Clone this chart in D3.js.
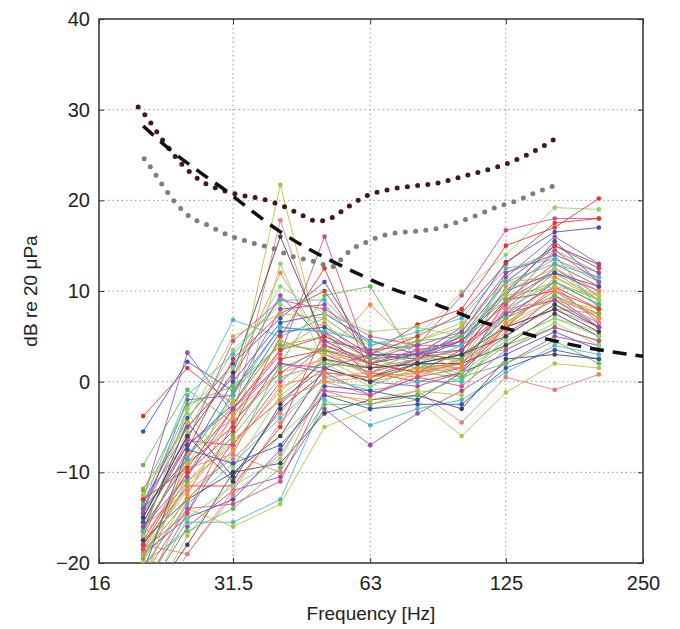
<!DOCTYPE html>
<html>
<head>
<meta charset="utf-8">
<script src="https://cdn.jsdelivr.net/npm/d3@7"></script>
<style>
  body { margin: 0; background: #fff; }
  text { font-family: "Liberation Sans", Arial, sans-serif; fill: #222; }
</style>
</head>
<body>
<div id="chart"></div>
<script>
const width = 680;
const height = 629;
const margin = { top: 19, right: 37, bottom: 66, left: 99 };

// third-octave bands of the measured spectra
const bands = [20, 25, 31.5, 40, 50, 63, 80, 100, 125, 160, 200];

// one row per measured spectrum (dB at each band)
const spectra = [
  [-3.8, 1.5, -2.5, 4.5, 3.0, 1.0, 2.5, 3.5, 9.0, 13.0, 10.5],
  [-5.5, 2.2, -1.0, 6.0, 5.5, 2.5, 3.0, 5.0, 11.0, 15.0, 12.9],
  [-9.2, -0.9, -4.5, 1.5, 3.5, 0.5, 1.5, 2.0, 7.5, 12.0, 9.0],
  [-11.8, -5.0, 0.5, 12.0, 4.0, 2.0, 3.5, 1.0, 6.0, 8.0, 7.5],
  [-13.0, 3.2, -3.5, 2.0, 1.0, -1.5, 0.5, 1.5, 5.0, 9.5, 6.0],
  [-14.0, -3.0, 6.8, 5.0, 7.0, 3.5, 2.0, 4.0, 10.0, 14.0, 8.0],
  [-16.5, -8.0, -2.0, 21.7, 2.5, 0.0, 1.0, 0.5, 4.5, 7.0, 5.5],
  [-17.5, -10.0, -4.0, 17.8, 3.5, 1.5, 2.0, 1.5, 6.5, 10.0, 7.0],
  [-15.0, -6.0, 1.0, 16.0, 4.5, 2.0, 3.0, 2.5, 7.0, 11.0, 8.5],
  [-18.5, -12.0, -6.0, 13.0, 2.0, -0.5, 1.5, 0.0, 5.0, 8.5, 6.5],
  [-14.5, -7.0, -3.0, 3.0, 16.0, 2.0, 1.0, 2.0, 8.0, 12.5, 9.5],
  [-16.0, -9.0, -5.0, 5.0, 12.5, 1.0, 0.0, 1.0, 6.0, 10.5, 8.0],
  [-13.5, -4.0, 2.0, 7.0, 11.0, 3.0, 2.5, 4.5, 9.5, 15.5, 11.0],
  [-19.0, -13.0, -8.0, 2.0, 9.5, 10.5, 2.0, 0.5, 4.0, 6.0, 4.5],
  [-17.0, -11.0, -7.0, -1.0, 3.0, 8.5, 3.5, 2.0, 6.0, 9.0, 7.5],
  [-24.0, -16.0, -12.0, -10.5, -3.0, -7.0, -3.5, -1.0, 2.0, 5.0, 4.0],
  [-22.0, -15.5, -15.5, -13.0, -2.0, -4.8, -3.0, -2.0, 1.0, 4.0, 3.0],
  [-19.5, -14.0, -16.0, -13.5, -5.0, -3.0, -2.0, -6.0, -1.2, 2.0, 1.5],
  [-18.0, -19.0, -12.5, -8.0, -1.0, -2.5, -1.0, -4.5, 0.5, -0.9, 0.8],
  [-25.0, -18.0, -10.0, -9.0, -3.5, -2.0, -1.5, -3.0, 2.5, 3.0, 2.5],
  [-16.0, -5.5, 3.5, 8.5, 6.0, 4.0, 5.0, 9.9, 14.0, 19.2, 19.0],
  [-15.5, -6.5, 4.5, 9.0, 8.0, 5.0, 4.0, 9.5, 16.7, 18.0, 18.0],
  [-17.0, -7.5, 2.5, 7.5, 10.0, 3.0, 6.3, 8.0, 15.0, 17.0, 20.2],
  [-14.0, -8.5, 0.0, 6.5, 7.5, 4.5, 3.0, 6.0, 13.2, 16.5, 17.0],
  [-18.5, -10.5, -1.0, 4.0, 5.0, 2.5, 1.5, 3.0, 12.0, 14.5, 12.0],
  [-21.0, -12.5, -3.5, 1.0, 2.5, 1.0, 0.5, 2.5, 10.5, 13.5, 11.5],
  [-23.0, -14.5, -6.5, -2.0, 1.5, 0.0, -0.5, 1.0, 9.0, 12.0, 10.0],
  [-20.5, -13.5, -9.0, -4.0, 0.5, -1.0, 0.0, 0.0, 8.0, 11.0, 9.0],
  [-26.0, -17.0, -11.0, -6.0, -1.5, -2.0, -1.0, -1.5, 6.5, 9.0, 8.0],
  [-17.5, -9.5, -8.0, -10.0, 0.0, -1.5, 1.0, 1.5, 5.5, 8.0, 6.0],
  [-16.5, -4.5, -10.5, -3.0, 1.0, 0.5, 2.0, 2.0, 4.0, 7.5, 5.0],
  [-15.0, -3.5, -9.5, -1.5, 2.0, 1.5, 3.0, 3.0, 3.5, 6.5, 4.0],
  [-13.0, -6.5, -7.0, 0.0, 4.0, 2.5, 4.0, 4.0, 7.5, 10.5, 6.5],
  [-18.0, -11.5, -11.5, -5.0, 5.5, 0.5, 2.5, 5.0, 10.0, 15.0, 12.5],
  [-19.0, -15.0, -13.0, -7.5, -0.5, -1.0, -2.0, 1.0, 3.0, 5.5, 3.5],
  [-20.0, -16.5, -14.0, -9.5, -2.5, -2.5, -1.5, 0.5, 2.0, 4.5, 2.0],
  [-22.5, -8.0, -4.0, 3.5, 6.5, 2.0, 1.0, 2.5, 8.5, 12.5, 10.0],
  [-14.5, -2.0, -1.5, 8.0, 8.5, 3.0, 2.5, 5.5, 11.5, 16.0, 13.0],
  [-13.5, -1.5, 3.0, 9.0, 9.0, 4.0, 5.5, 7.0, 12.5, 13.5, 11.0],
  [-12.5, -4.5, 5.0, 7.5, 7.0, 3.5, 4.5, 6.5, 11.0, 11.5, 9.5],
  [-16.0, -12.0, -8.5, -3.5, 3.0, 1.0, 3.5, 4.0, 7.0, 9.5, 7.0],
  [-17.5, -13.0, -10.0, -6.0, 1.5, 0.0, 2.0, 3.0, 6.0, 8.0, 5.5],
  [-24.5, -15.0, -11.5, -8.5, 0.0, -0.5, 1.5, 1.0, 4.5, 7.0, 5.0],
  [-21.5, -14.0, -13.5, -11.0, -1.0, -1.5, 0.5, -0.5, 3.5, 6.0, 4.5],
  [-18.0, -10.0, -5.5, 2.5, 3.5, 2.0, 1.0, 3.5, 9.0, 10.0, 8.0],
  [-15.5, -7.0, -2.5, 5.5, 6.0, 3.0, 3.0, 4.5, 10.0, 12.0, 10.5],
  [-19.5, -11.0, -6.0, 0.5, 2.0, 1.5, 2.5, 2.5, 7.0, 9.5, 7.5],
  [-23.5, -13.0, -7.5, -0.5, 1.0, 0.5, 1.5, 1.5, 6.0, 11.5, 9.0],
  [-14.0, -5.0, 0.5, 9.5, 4.5, 3.5, 4.0, 5.5, 12.0, 14.0, 12.0],
  [-16.5, -8.5, -1.5, 6.0, 5.5, 4.5, 3.5, 4.0, 11.0, 13.0, 11.5],
  [-20.0, -9.0, -2.5, 4.5, 3.0, 2.0, 4.5, 6.0, 9.5, 10.5, 9.5],
  [-27.0, -19.0, -12.0, -4.5, 0.5, 1.0, 2.5, 3.5, 8.0, 9.0, 6.5],
  [-15.0, -6.0, -11.0, -2.5, 2.5, 1.5, 2.0, 3.0, 5.0, 8.5, 6.0],
  [-17.0, -3.0, 1.5, 10.5, 7.5, 5.5, 6.0, 5.0, 10.0, 12.5, 9.0],
  [-18.5, -14.5, -4.5, 1.0, 4.0, 2.0, 3.5, 4.5, 8.5, 14.5, 11.0],
  [-13.0, -9.5, -3.0, 3.5, 5.0, 3.0, 5.0, 7.5, 13.0, 17.5, 18.0],
  [-21.0, -7.5, -9.0, -7.0, -1.5, -3.0, -2.5, -2.5, 1.5, 3.5, 2.5],
  [-12.0, -2.5, -0.5, 4.0, 3.5, 2.5, 4.5, 5.0, 9.0, 11.0, 8.5],
  [-19.0, -11.5, -6.5, -2.0, 0.0, 0.5, 1.0, 2.0, 6.5, 10.0, 7.0],
  [-16.0, -10.5, -3.0, 2.0, 1.5, 3.0, 3.0, 3.5, 7.5, 9.0, 6.0]
];

const lineColors = ["#e8322c", "#3b4fb4", "#5cbc4c", "#f28a3c", "#9c4aaa",
  "#3fb8c2", "#bcbc3e", "#e77a7a", "#3d3d5c", "#8fd06e", "#d04a8a"];

// upper dotted curve (dark red): [Hz, dB]
const upperCurveHz = [19.5, 20.2, 22.1, 24.3, 26.7, 29.5, 32.6, 36.1, 40.0, 43.7,
  48.4, 51.4, 56.0, 61.3, 67.9, 75.9, 88.3, 103.2, 120.1, 139.1, 161.8];
const upperCurveDb = [30.3, 29.4, 26.6, 24.0, 22.2, 21.2, 20.6, 20.2, 19.5, 18.6,
  17.7, 18.0, 19.2, 20.4, 21.1, 21.5, 21.9, 22.8, 23.7, 25.0, 26.9];

// lower dotted curve (grey)
const lowerCurveHz = [20.1, 20.8, 22.1, 23.5, 25.3, 27.6, 31.3, 34.8, 38.5, 42.6,
  47.2, 52.2, 55.5, 58.3, 61.9, 65.2, 71.4, 79.8, 88.3, 98.1, 108.6, 120.1, 132.9, 146.2, 161.8];
const lowerCurveDb = [24.6, 23.6, 21.6, 19.8, 18.2, 17.3, 16.0, 15.3, 14.7, 13.8,
  13.3, 12.7, 14.0, 14.8, 15.4, 15.9, 16.4, 16.6, 16.9, 17.6, 18.4, 19.3, 20.0, 20.9, 21.7];

// dashed black curve
const dashedCurveHz = [20, 22.9, 26.8, 30.7, 34.3, 39.3, 44.8, 51.9, 59.8, 70.7,
  81.0, 95.7, 110.8, 128.9, 150.8, 177.2, 207.2, 250];
const dashedCurveDb = [28.2, 25.6, 23.0, 20.9, 19.0, 16.8, 15.0, 13.3, 11.8, 10.2,
  9.2, 7.8, 6.6, 5.7, 4.8, 4.0, 3.4, 2.8];

const xTicks = [16, 31.5, 63, 125, 250];
const yTicks = [-20, -10, 0, 10, 20, 30, 40];

const innerW = width - margin.left - margin.right;
const innerH = height - margin.top - margin.bottom;

const svg = d3
  .select("#chart")
  .append("svg")
  .attr("width", width)
  .attr("height", height);

const x = d3.scaleLog().domain([16, 250]).range([0, innerW]);
const y = d3.scaleLinear().domain([-20, 40]).range([innerH, 0]);

const g = svg
  .append("g")
  .attr("transform", `translate(${margin.left},${margin.top})`);

svg
  .append("clipPath")
  .attr("id", "plotClip")
  .append("rect")
  .attr("width", innerW)
  .attr("height", innerH)
  .attr("transform", `translate(${margin.left},${margin.top})`);

// grid
g.selectAll(".hgrid")
  .data(yTicks.slice(1, -1))
  .enter()
  .append("line")
  .attr("x1", 0)
  .attr("x2", innerW)
  .attr("y1", (d) => y(d))
  .attr("y2", (d) => y(d))
  .attr("stroke", "#9a9a9a")
  .attr("stroke-width", 1)
  .attr("stroke-dasharray", "1.5,3");

g.selectAll(".vgrid")
  .data(xTicks.slice(1, -1))
  .enter()
  .append("line")
  .attr("x1", (d) => x(d))
  .attr("x2", (d) => x(d))
  .attr("y1", 0)
  .attr("y2", innerH)
  .attr("stroke", "#9a9a9a")
  .attr("stroke-width", 1)
  .attr("stroke-dasharray", "1.5,3");

const plot = svg
  .append("g")
  .attr("clip-path", "url(#plotClip)")
  .append("g")
  .attr("transform", `translate(${margin.left},${margin.top})`);

const line = d3
  .line()
  .x((d, i) => x(bands[i]))
  .y((d) => y(d));

// measured spectra
const series = plot
  .selectAll(".spectrum")
  .data(spectra)
  .enter()
  .append("g")
  .attr("class", "spectrum");

series
  .append("path")
  .attr("d", (d) => line(d))
  .attr("fill", "none")
  .attr("stroke", (d, i) => lineColors[i % lineColors.length])
  .attr("stroke-width", 1)
  .attr("stroke-opacity", 0.85);

series.each(function (row, i) {
  d3.select(this)
    .selectAll("circle")
    .data(row)
    .enter()
    .append("circle")
    .attr("cx", (d, j) => x(bands[j]))
    .attr("cy", (d) => y(d))
    .attr("r", 2.3)
    .attr("fill", lineColors[i % lineColors.length]);
});

// reference curves
const smooth = d3
  .line()
  .curve(d3.curveMonotoneX)
  .x((d) => x(d[0]))
  .y((d) => y(d[1]));

plot
  .append("path")
  .attr("d", smooth(d3.zip(lowerCurveHz, lowerCurveDb)))
  .attr("fill", "none")
  .attr("stroke", "#7e7e7e")
  .attr("stroke-width", 5)
  .attr("stroke-linecap", "round")
  .attr("stroke-dasharray", "0,10.3");

plot
  .append("path")
  .attr("d", smooth(d3.zip(upperCurveHz, upperCurveDb)))
  .attr("fill", "none")
  .attr("stroke", "#451818")
  .attr("stroke-width", 5)
  .attr("stroke-linecap", "round")
  .attr("stroke-dasharray", "0,10.3");

plot
  .append("path")
  .attr("d", smooth(d3.zip(dashedCurveHz, dashedCurveDb)))
  .attr("fill", "none")
  .attr("stroke", "#111")
  .attr("stroke-width", 3.5)
  .attr("stroke-dasharray", "14,9");

// frame and ticks
g.append("rect")
  .attr("width", innerW)
  .attr("height", innerH)
  .attr("fill", "none")
  .attr("stroke", "#333")
  .attr("stroke-width", 1.5);

const fmtX = (d) => String(d);
const fmtY = (d) => (d < 0 ? "\u2212" + Math.abs(d) : String(d));

g.append("g")
  .attr("transform", `translate(0,${innerH})`)
  .call(d3.axisBottom(x).tickValues(xTicks).tickFormat(fmtX).tickSizeInner(-5).tickSizeOuter(0).tickPadding(13))
  .call((a) => a.select(".domain").remove());

g.append("g")
  .call(d3.axisTop(x).tickValues(xTicks).tickFormat("").tickSizeInner(-5).tickSizeOuter(0))
  .call((a) => a.select(".domain").remove());

g.append("g")
  .call(d3.axisLeft(y).tickValues(yTicks).tickFormat(fmtY).tickSizeInner(-5).tickSizeOuter(0).tickPadding(9))
  .call((a) => a.select(".domain").remove());

g.append("g")
  .attr("transform", `translate(${innerW},0)`)
  .call(d3.axisRight(y).tickValues(yTicks).tickFormat("").tickSizeInner(-5).tickSizeOuter(0))
  .call((a) => a.select(".domain").remove());

g.selectAll(".tick line").attr("stroke", "#333");
g.selectAll(".tick text")
  .style("font-size", "20px")
  .style("font-family", "Liberation Sans, Arial, sans-serif")
  .attr("fill", "#2a2a2a");

// axis titles
svg
  .append("text")
  .attr("x", margin.left + innerW / 2)
  .attr("y", 620)
  .style("text-anchor", "middle")
  .style("font-size", "19px")
  .text("Frequency [Hz]");

svg
  .append("text")
  .attr("transform", `translate(37,${margin.top + innerH / 2}) rotate(-90)`)
  .style("text-anchor", "middle")
  .style("font-size", "19px")
  .text("dB re 20 \u03bcPa");
</script>
</body>
</html>
